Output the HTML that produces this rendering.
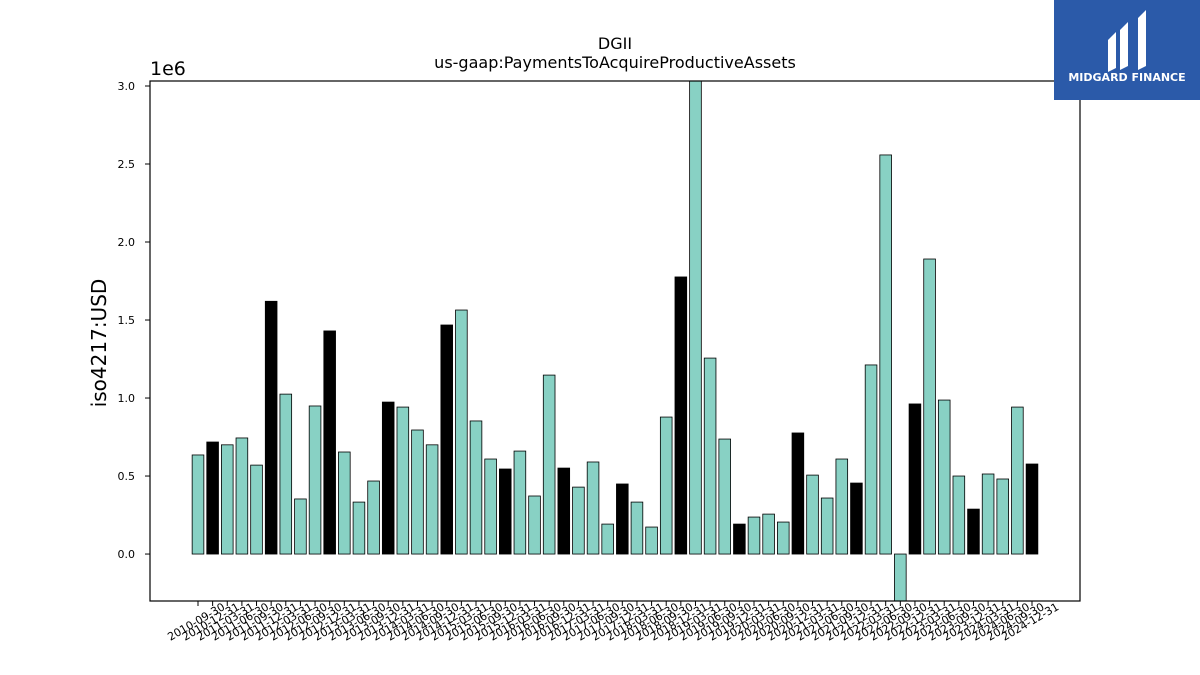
<!DOCTYPE html>
<html><head><meta charset="utf-8"><style>
html,body{margin:0;padding:0;background:#fff;}
svg{display:block;font-family:"DejaVu Sans","Liberation Sans",sans-serif;}
</style></head><body>
<svg id="chart" width="1200" height="675" viewBox="0 0 1200 675" xmlns="http://www.w3.org/2000/svg">
<text x="615" y="49" text-anchor="middle" font-size="16">DGII</text>
<text x="615" y="68" text-anchor="middle" font-size="16">us-gaap:PaymentsToAcquireProductiveAssets</text>
<text x="150" y="75" font-size="19">1e6</text>
<text transform="translate(106,343) rotate(-90)" text-anchor="middle" font-size="20">iso4217:USD</text>
<g id="bars"></g>
<g id="yticks"></g>
<g id="xticks"></g>
<rect x="150" y="81" width="930" height="520" fill="none" stroke="#000" stroke-width="1.2"/>
<g>
<rect x="1054" y="0" width="146" height="100" fill="#2b5aa9"/>
<path d="M1108 40 l8-8 v36 l-8 4z M1120 30 l8-8 v44 l-8 4z M1138 18 l8-8 v56 l-8 4z" fill="#fff"/>
<text x="1127" y="81" text-anchor="middle" font-size="11" font-weight="bold" fill="#fff">MIDGARD FINANCE</text>
</g>
</svg>
<script>
const dates=["2010-09-30","2010-12-31","2011-03-31","2011-06-30","2011-09-30","2011-12-31","2012-03-31","2012-06-30","2012-09-30","2012-12-31","2013-03-31","2013-06-30","2013-09-30","2013-12-31","2014-03-31","2014-06-30","2014-09-30","2014-12-31","2015-03-31","2015-06-30","2015-09-30","2015-12-31","2016-03-31","2016-06-30","2016-09-30","2016-12-31","2017-03-31","2017-06-30","2017-09-30","2017-12-31","2018-03-31","2018-06-30","2018-09-30","2018-12-31","2019-03-31","2019-06-30","2019-09-30","2019-12-31","2020-03-31","2020-06-30","2020-09-30","2020-12-31","2021-03-31","2021-06-30","2021-09-30","2021-12-31","2022-03-31","2022-06-30","2022-09-30","2022-12-31","2023-03-31","2023-06-30","2023-09-30","2023-12-31","2024-03-31","2024-06-30","2024-09-30","2024-12-31"];
const values=[0.635,0.718,0.70,0.744,0.57,1.62,1.025,0.353,0.949,1.43,0.654,0.333,0.468,0.974,0.942,0.795,0.70,1.468,1.564,0.853,0.609,0.545,0.66,0.372,1.147,0.551,0.429,0.59,0.192,0.449,0.333,0.173,0.878,1.776,3.1,1.256,0.737,0.192,0.237,0.256,0.205,0.776,0.506,0.359,0.609,0.455,1.212,2.558,-0.35,0.962,1.891,0.987,0.5,0.288,0.513,0.481,0.942,0.577];
const yTicks=[0,0.5,1.0,1.5,2.0,2.5,3.0];
const NS="http://www.w3.org/2000/svg";
const plot={l:150,r:1080,t:81,b:601};
const yMin=-0.301,yMax=3.032;
function y(v){return plot.b-(v-yMin)/(yMax-yMin)*(plot.b-plot.t);}
const step=(1032-198)/57;
function x(i){return 198+i*step;}
const bw=step*0.8;
function mk(t,a){const e=document.createElementNS(NS,t);for(const k in a)e.setAttribute(k,a[k]);return e;}
const gb=document.getElementById('bars');
values.forEach((v,i)=>{
 const top=Math.max(plot.t,Math.min(y(v),y(0))), bot=Math.min(plot.b,Math.max(y(v),y(0)));
 const r=mk('rect',{x:x(i)-bw/2,y:top,width:bw,height:bot-top,fill:dates[i].endsWith('12-31')?'#000':'#88d1c4',stroke:'#000','stroke-width':0.8});
 
 
 gb.appendChild(r);
});
const gy=document.getElementById('yticks');
yTicks.forEach(t=>{
 gy.appendChild(mk('line',{x1:plot.l-5,x2:plot.l,y1:y(t),y2:y(t),stroke:'#000'}));
 const tx=mk('text',{x:plot.l-15,y:y(t)+4,'text-anchor':'end','font-size':11});
 tx.textContent=t.toFixed(1);
 
 
 gy.appendChild(tx);
});
const gx=document.getElementById('xticks');
dates.forEach((d,i)=>{
 gx.appendChild(mk('line',{x1:x(i),x2:x(i),y1:plot.b,y2:plot.b+5,stroke:'#000'}));
 const tx=mk('text',{transform:`translate(${x(i)},${plot.b+24}) rotate(-30)`,'text-anchor':'middle','font-size':11});
 tx.textContent=d;
 
 
 gx.appendChild(tx);
});
</script>
</body></html>
